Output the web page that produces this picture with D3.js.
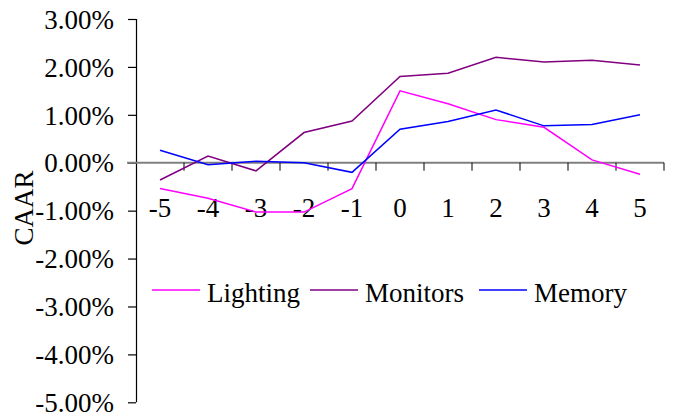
<!DOCTYPE html>
<html>
<head>
<meta charset="utf-8">
<script src="https://cdn.jsdelivr.net/npm/d3@7"></script>
<style>
  html, body { margin: 0; padding: 0; background: #fff; }
  svg { display: block; }
  text { font-family: "Liberation Serif", "Times New Roman", serif; fill: #000; }
</style>
</head>
<body>
<svg id="chart" width="675" height="417"></svg>
<script>
const categories = ["-5", "-4", "-3", "-2", "-1", "0", "1", "2", "3", "4", "5"];
const lighting = [-0.54, -0.74, -1.03, -1.03, -0.54, 1.50, 1.23, 0.90, 0.74, 0.06, -0.24];
const monitors = [-0.36, 0.14, -0.17, 0.63, 0.87, 1.80, 1.87, 2.20, 2.10, 2.14, 2.04];
const memory   = [0.26, -0.04, 0.03, 0.00, -0.20, 0.70, 0.86, 1.10, 0.77, 0.80, 1.00];
const yTicks = [3, 2, 1, 0, -1, -2, -3, -4, -5];
const yTickLabels = ["3.00%", "2.00%", "1.00%", "0.00%", "-1.00%", "-2.00%", "-3.00%", "-4.00%", "-5.00%"];
const seriesNames = ["Lighting", "Monitors", "Memory"];
const seriesColors = ["#FF00FF", "#800080", "#0000FF"];
const seriesData = [lighting, monitors, memory];

const svg = d3.select("#chart");
const x = d3.scaleBand().domain(categories).range([136, 664]).padding(0);
const y = d3.scaleLinear().domain([-5, 3]).range([402.3, 19]);
const fs = 27;

// Y axis
const yAxis = svg.append("g").attr("transform", "translate(136,0)")
  .call(d3.axisLeft(y).tickValues(yTicks).tickSize(8).tickPadding(14)
    .tickFormat((d, i) => yTickLabels[i]));
yAxis.select(".domain").attr("stroke", "#000").attr("stroke-width", 1.2)
  .attr("d", `M0.5,${y(3)}V${y(-5)}`);
yAxis.selectAll(".tick line").attr("stroke", "#000").attr("stroke-width", 1.2);
yAxis.selectAll(".tick text").attr("font-family", "Liberation Serif").attr("font-size", fs)
  .attr("fill", "#000").attr("dy", "0.34em");

// X axis (zero line)
const y0 = y(0);
svg.append("line").attr("x1", 127).attr("x2", 664).attr("y1", y0).attr("y2", y0)
  .attr("stroke", "#808080").attr("stroke-width", 2);
const bounds = categories.map(c => x(c) + x.bandwidth());
svg.append("g").selectAll("line").data(bounds).join("line")
  .attr("x1", d => d).attr("x2", d => d).attr("y1", y0).attr("y2", y0 + 8)
  .attr("stroke", "#000").attr("stroke-width", 1);
svg.append("g").selectAll("text").data(categories).join("text")
  .attr("x", d => x(d) + x.bandwidth() / 2).attr("y", 217)
  .attr("text-anchor", "middle").attr("font-size", fs).text(d => d);

// Lines
const line = d3.line().x((d, i) => x(categories[i]) + x.bandwidth() / 2).y(d => y(d));
seriesData.forEach((s, k) => {
  svg.append("path").datum(s).attr("d", line).attr("fill", "none")
    .attr("stroke", seriesColors[k]).attr("stroke-width", 1.5);
});

// Y title
svg.append("text").attr("transform", "translate(33,208) rotate(-90)")
  .attr("text-anchor", "middle").attr("font-size", fs).text("CAAR");

// Legend
const legendX = [152, 310, 479];
const lg = svg.append("g");
seriesNames.forEach((n, k) => {
  lg.append("line").attr("x1", legendX[k]).attr("x2", legendX[k] + 48)
    .attr("y1", 290).attr("y2", 290).attr("stroke", seriesColors[k]).attr("stroke-width", 1.5);
  lg.append("text").attr("x", legendX[k] + 55).attr("y", 302)
    .attr("font-size", fs).text(n);
});
</script>
</body>
</html>
